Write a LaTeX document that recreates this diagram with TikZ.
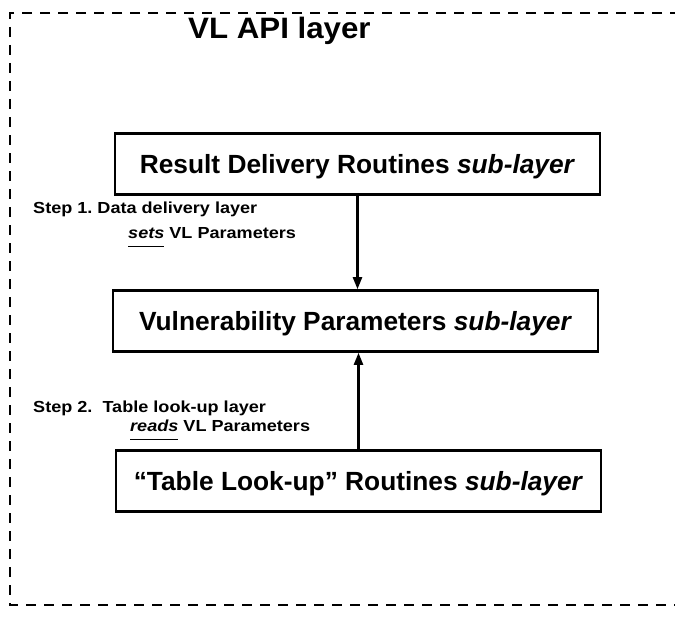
\documentclass[tikz,border=0pt]{standalone}
\usepackage{fontspec}
\setmainfont{Liberation Sans}
\newfontfamily\widesans[FakeStretch=1.13]{Liberation Sans}
\newfontfamily\titlesans[FakeStretch=1.06]{Liberation Sans}
\usetikzlibrary{arrows.meta}

% underlined word, rule set a little below the baseline
\newcommand\stepul[2][9pt]{\setbox0\hbox{#2}\rlap{\rule[-#1]{\wd0}{1.3pt}}\box0\relax}

\begin{document}
\frenchspacing
\begin{tikzpicture}[x=1pt,y=-1pt,
  frame/.style={line width=2.8pt, dash pattern=on 10pt off 8pt},
  layerbox/.style={draw, line width=2.6pt, fill=white, minimum width=485pt,
    minimum height=61pt, inner sep=0pt, text height=18.8pt, text depth=0pt,
    font=\bfseries\fontsize{26.3}{30}\selectfont},
  steptext/.style={font=\widesans\bfseries\fontsize{16}{19}\selectfont,
    anchor=base west, inner sep=0pt},
  link/.style={line width=2.3pt, -{Triangle[length=12pt,width=9pt]}}]
\useasboundingbox (0,0) rectangle (675,618);

% open dashed frame of the API layer (right side runs off the page)
\draw[frame] (680,13) -- (10,13) -- (10,605) -- (680,605);

\node[font=\titlesans\bfseries\fontsize{29.5}{34}\selectfont, anchor=base west,
  inner sep=0pt] (title) at (188,39) {VL API layer};

\node[layerbox] (rd) at (357.5,164) {Result Delivery Routines \textit{sub-layer}};
\node[layerbox] (vp) at (355.5,321) {Vulnerability Parameters\ \textit{sub-layer}};
\node[layerbox] (tl) at (358.5,481) {``Table Look-up'' Routines \textit{sub-layer}};

\draw[link] (rd.south) -- (rd.south |- vp.north);
\draw[link] (tl.north) -- (tl.north |- vp.south);

\node[steptext] (s1a) at (33,213) {Step 1. Data delivery layer};
\node[steptext] (s1b) at (128,238) {\stepul{\textit{sets}} VL Parameters};
\node[steptext] (s2a) at (33,412) {Step 2.\ \ Table look-up layer};
\node[steptext] (s2b) at (130,431) {\stepul{\textit{reads}} VL Parameters};
\end{tikzpicture}
\end{document}
